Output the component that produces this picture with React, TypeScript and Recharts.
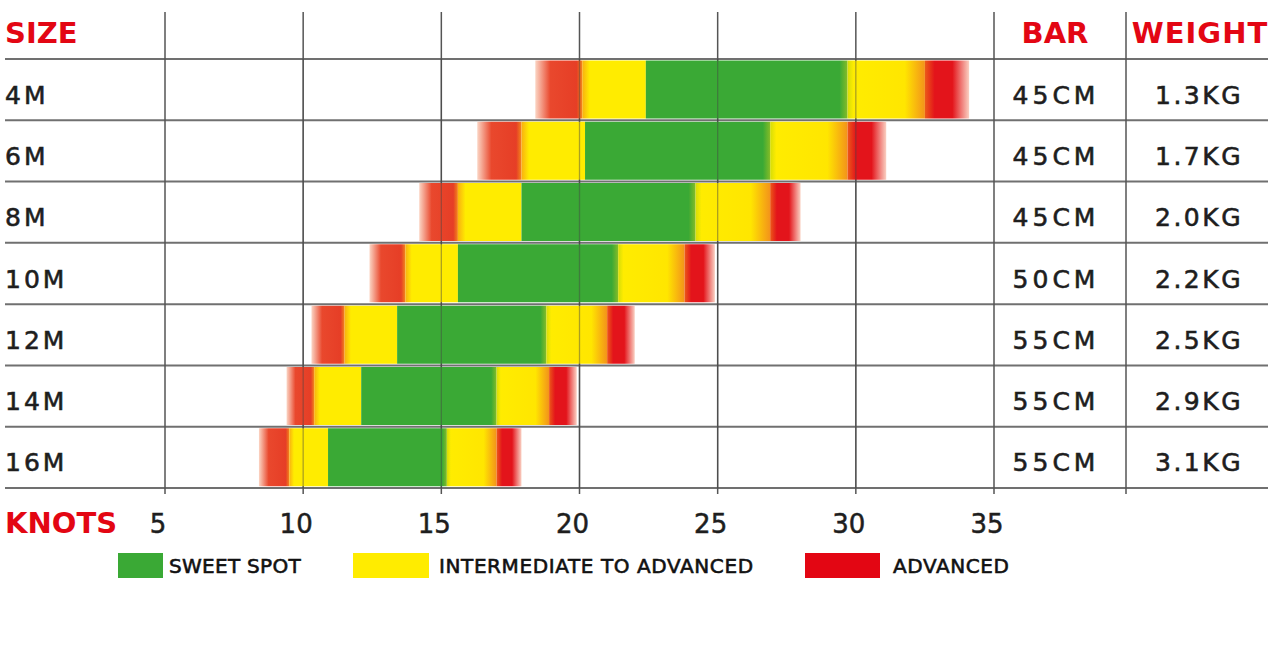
import React from 'react';
import { BarChart, Bar, XAxis, YAxis, CartesianGrid, ReferenceLine } from 'recharts';

const sizes = ['4M', '6M', '8M', '10M', '12M', '14M', '16M'];
const advancedLowStart = [18.4, 16.3, 14.2, 12.4, 10.3, 9.4, 8.4];
const intermediateLowStart = [20.1, 17.9, 15.6, 13.7, 11.5, 10.4, 9.5];
const sweetSpotStart = [22.4, 20.2, 17.9, 15.6, 13.4, 12.1, 10.9];
const sweetSpotEnd = [29.7, 26.9, 24.2, 21.4, 18.8, 17.0, 15.2];
const advancedHighStart = [32.5, 29.7, 26.9, 23.8, 21.0, 18.9, 17.0];
const advancedHighEnd = [34.1, 31.1, 28.0, 24.9, 22.0, 19.9, 17.9];
const barLengths = ['45CM', '45CM', '45CM', '50CM', '55CM', '55CM', '55CM'];
const weights = ['1.3KG', '1.7KG', '2.0KG', '2.2KG', '2.5KG', '2.9KG', '3.1KG'];
const knotTicks = [5, 10, 15, 20, 25, 30, 35];
const legendItems = [
  { label: 'SWEET SPOT', color: '#3aa935' },
  { label: 'INTERMEDIATE TO ADVANCED', color: '#ffec00' },
  { label: 'ADVANCED', color: '#e30613' },
];

const data = sizes.map((size, i) => ({
  size,
  base: advancedLowStart[i],
  advLow: intermediateLowStart[i] - advancedLowStart[i],
  interLow: sweetSpotStart[i] - intermediateLowStart[i],
  sweet: sweetSpotEnd[i] - sweetSpotStart[i],
  interHigh: advancedHighStart[i] - sweetSpotEnd[i],
  advHigh: advancedHighEnd[i] - advancedHighStart[i],
}));

const FONT = '"DejaVu Sans", Arial, sans-serif';
const RED = '#e30613';
const TEXT = '#1e1e1e';

const RowTick = (props: any) => {
  const { y, payload } = props;
  const i = sizes.indexOf(payload.value);
  return (
    <g fontFamily={FONT} fontSize={25} fill={TEXT} stroke={TEXT} strokeWidth={0.6}>
      <text x={5} y={y} dy={14} letterSpacing={3} textAnchor="start">{payload.value}</text>
      <text x={1056} y={y} dy={14} letterSpacing={4} textAnchor="middle">{barLengths[i]}</text>
      <text x={1199} y={y} dy={14} letterSpacing={2.5} textAnchor="middle">{weights[i]}</text>
    </g>
  );
};

const KnotTick = (props: any) => {
  const { x, y, payload } = props;
  return (
    <text x={x} y={y} dx={-7} dy={45} textAnchor="middle" fontFamily={FONT} fontSize={26} fill={TEXT} stroke={TEXT} strokeWidth={0.5}>
      {payload.value}
    </text>
  );
};

const rowLines = (args: any) => {
  const off = args && args.offset ? args.offset : { top: 59, height: 429 };
  const n = sizes.length;
  const pts: number[] = [];
  for (let i = 0; i <= n; i++) pts.push(off.top + (i * off.height) / n);
  return pts;
};

export default function App() {
  return (
    <div style={{ position: 'absolute', left: 0, top: 0, width: 1280, height: 658, background: '#fff' }}>
      <BarChart
        width={1280}
        height={658}
        data={data}
        layout="vertical"
        margin={{ top: 59, right: 286, bottom: 130, left: 5 }}
        barCategoryGap={1.5}
      >
        <defs>
          <linearGradient id="gAdvLow" x1="0" y1="0" x2="1" y2="0">
            <stop offset="0%" stopColor="#fbd5c4" />
            <stop offset="32%" stopColor="#e9482d" />
            <stop offset="88%" stopColor="#e63e26" />
            <stop offset="100%" stopColor="#f3861a" />
          </linearGradient>
          <linearGradient id="gInterLow" x1="0" y1="0" x2="1" y2="0">
            <stop offset="0%" stopColor="#f9b010" />
            <stop offset="12%" stopColor="#ffec00" />
            <stop offset="100%" stopColor="#ffec00" />
          </linearGradient>
          <linearGradient id="gSweet" x1="0" y1="0" x2="1" y2="0">
            <stop offset="0%" stopColor="#3aa935" />
            <stop offset="96%" stopColor="#3aa935" />
            <stop offset="100%" stopColor="#86bc26" />
          </linearGradient>
          <linearGradient id="gInterHigh" x1="0" y1="0" x2="1" y2="0">
            <stop offset="0%" stopColor="#d5dd08" />
            <stop offset="8%" stopColor="#ffec00" />
            <stop offset="74%" stopColor="#ffe600" />
            <stop offset="100%" stopColor="#f3931a" />
          </linearGradient>
          <linearGradient id="gAdvHigh" x1="0" y1="0" x2="1" y2="0">
            <stop offset="0%" stopColor="#ec5a18" />
            <stop offset="22%" stopColor="#e3141b" />
            <stop offset="62%" stopColor="#e3141b" />
            <stop offset="100%" stopColor="#fad0c2" />
          </linearGradient>
        </defs>
        <CartesianGrid
          vertical={false}
          x={5}
          width={1263}
          stroke="#707070"
          strokeWidth={2}
          horizontalCoordinatesGenerator={rowLines}
        />
        <CartesianGrid horizontal={false} y={12} height={482} stroke="#555" strokeWidth={1.5} />
        <XAxis
          type="number"
          domain={[5, 35]}
          ticks={knotTicks}
          allowDataOverflow
          axisLine={false}
          tickLine={false}
          tickSize={0}
          tickMargin={0}
          height={40}
          tick={<KnotTick />}
          interval={0}
        />
        <YAxis
          type="category"
          dataKey="size"
          width={160}
          axisLine={false}
          tickLine={false}
          tick={<RowTick />}
          interval={0}
        />
        <Bar dataKey="base" stackId="k" fill="transparent" isAnimationActive={false} />
        <Bar dataKey="advLow" stackId="k" fill="url(#gAdvLow)" isAnimationActive={false} />
        <Bar dataKey="interLow" stackId="k" fill="url(#gInterLow)" isAnimationActive={false} />
        <Bar dataKey="sweet" stackId="k" fill="url(#gSweet)" isAnimationActive={false} />
        <Bar dataKey="interHigh" stackId="k" fill="url(#gInterHigh)" isAnimationActive={false} />
        <Bar dataKey="advHigh" stackId="k" fill="url(#gAdvHigh)" isAnimationActive={false} />
        {knotTicks.slice(1, -1).map((t) => (
          <ReferenceLine key={t} x={t} stroke="#444" strokeOpacity={0.45} strokeWidth={1.3} />
        ))}
      </BarChart>
      <svg
        width={1280}
        height={658}
        style={{ position: 'absolute', left: 0, top: 0, pointerEvents: 'none' }}
      >
        <line x1={1126} x2={1126} y1={12} y2={494} stroke="#555" strokeWidth={1.5} />
        <g fontFamily={FONT} fontWeight="bold" fontSize={29} fill={RED}>
          <text x={5} y={43}>SIZE</text>
          <text x={1055} y={43} textAnchor="middle">BAR</text>
          <text x={1200} y={43} textAnchor="middle" letterSpacing={1}>WEIGHT</text>
          <text x={5} y={533}>KNOTS</text>
        </g>
        <g fontFamily={FONT} fontSize={20} fill="#111" stroke="#111" strokeWidth={0.6}>
          <rect x={118} y={553} width={45} height={25} fill={legendItems[0].color} stroke="none" />
          <text x={169} y={573} letterSpacing={0.3}>{legendItems[0].label}</text>
          <rect x={353} y={553} width={76} height={25} fill={legendItems[1].color} stroke="none" />
          <text x={439} y={573} letterSpacing={0.6}>{legendItems[1].label}</text>
          <rect x={805} y={553} width={75} height={25} fill={legendItems[2].color} stroke="none" />
          <text x={893} y={573} letterSpacing={0.6}>{legendItems[2].label}</text>
        </g>
      </svg>
    </div>
  );
}
